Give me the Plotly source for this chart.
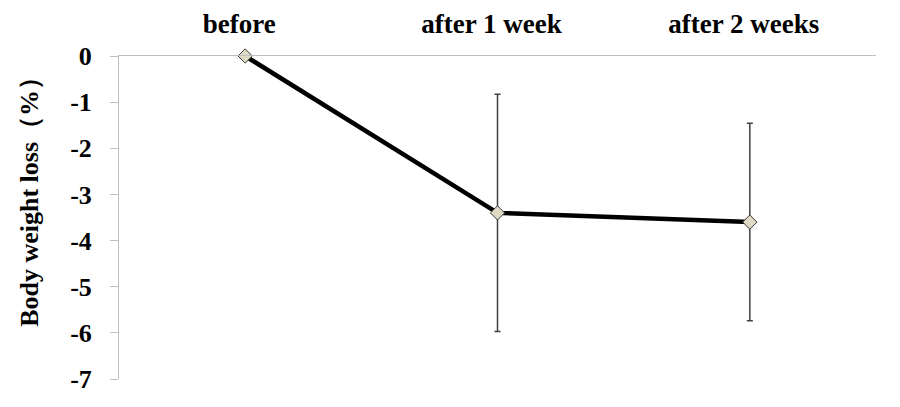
import plotly.graph_objects as go

categories = ["before", "after 1 week", "after 2 weeks"]
values = [0.0, -3.40, -3.60]
errors = [0.0, 2.57, 2.14]
y_ticks = [0, -1, -2, -3, -4, -5, -6, -7]
y_title = "Body weight loss（%）"

font_family = "Liberation Serif, Times New Roman, serif"

fig = go.Figure()
fig.add_trace(go.Scatter(
    x=categories, y=values,
    mode="lines+markers",
    line=dict(color="black", width=4.5),
    marker=dict(symbol="diamond", size=11, color="#ddd9c3",
                line=dict(color="#3a3a3a", width=1)),
    error_y=dict(type="data", array=errors, visible=True,
                 color="#404040", thickness=1.5, width=3),
    cliponaxis=False,
    showlegend=False,
))

fig.update_layout(
    width=900, height=407,
    margin=dict(l=111, r=32, t=48, b=36, autoexpand=False),
    paper_bgcolor="white", plot_bgcolor="white",
    font=dict(family=font_family, size=26, color="black"),
    annotations=[dict(
        text=y_title, textangle=-90, showarrow=False,
        xref="paper", yref="paper", x=0, y=0.567,
        xanchor="center", yanchor="middle", xshift=-89,
        font=dict(family=font_family, size=26, color="black", weight="bold"),
    )],
)
fig.update_xaxes(
    type="category", range=[-0.5, 2.5], side="top",
    showline=True, linecolor="#bfbfbf", linewidth=1,
    showgrid=False, ticks="", zeroline=False,
    tickfont=dict(family=font_family, size=27, color="black", weight="bold"),
    ticklabelstandoff=11, ticklabelshift=-6,
)
fig.update_yaxes(
    range=[-7, 0], tickvals=y_ticks, ticktext=[str(v) for v in y_ticks],
    showline=True, linecolor="#bfbfbf", linewidth=1,
    ticks="outside", ticklen=8, tickcolor="#bfbfbf",
    showgrid=False, zeroline=False,
    tickfont=dict(family=font_family, size=26, color="black", weight="bold"),
    ticklabelstandoff=13,
)

fig.write_html("out.html")
